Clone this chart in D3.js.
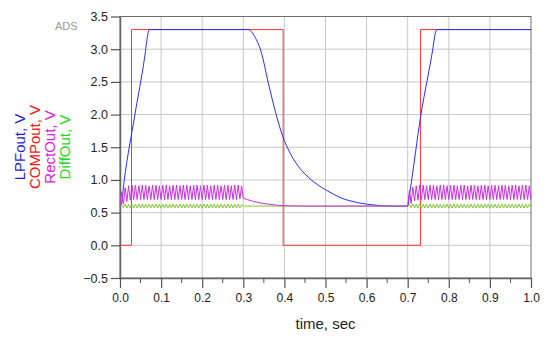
<!DOCTYPE html>
<html>
<head>
<meta charset="utf-8">
<script src="https://cdn.jsdelivr.net/npm/d3@7"></script>
<style>
  body { margin: 0; background: #fff; }
  svg { display: block; }
</style>
</head>
<body>
<div id="chart"></div>
<script>
// LPFout (V)
const lpfTime = [0, 0.003, 0.01, 0.036, 0.06, 0.067, 0.071, 0.312, 0.328, 0.343, 0.361, 0.38, 0.39, 0.4,
  0.41, 0.42, 0.44, 0.46, 0.48, 0.5, 0.52, 0.54, 0.56, 0.58, 0.6, 0.63, 0.66, 0.70,
  0.705, 0.732, 0.761, 0.767, 0.771, 1.0];
const lpfValue = [0.6, 0.62, 0.98, 1.99, 2.88, 3.2, 3.3, 3.3, 3.19, 2.97, 2.48, 2.0, 1.78, 1.6,
  1.46, 1.34, 1.16, 1.03, 0.93, 0.85, 0.78, 0.72, 0.68, 0.65, 0.63, 0.61, 0.6, 0.6,
  0.8, 1.99, 3.0, 3.24, 3.3, 3.3];

// COMPout (V)
const compTime = [0, 0.028, 0.028, 0.397, 0.397, 0.731, 0.731, 1.0];
const compValue = [0, 0, 3.3, 3.3, 0, 0, 3.3, 3.3];

// RectOut / DiffOut ripple, one sample every half ripple period (1/240 s)
const rippleStep = 1 / 240;
const rectBurst1 = [0.60, 0.82, 0.63, 0.88, 0.67, 0.91, 0.69, 0.92,
  0.70, 0.92, 0.70, 0.91, 0.70, 0.92, 0.70, 0.92, 0.70, 0.91, 0.70, 0.92,
  0.70, 0.92, 0.70, 0.91, 0.70, 0.92, 0.70, 0.92, 0.70, 0.91, 0.70, 0.92,
  0.70, 0.92, 0.70, 0.91, 0.70, 0.92, 0.70, 0.92, 0.70, 0.91, 0.70, 0.92,
  0.70, 0.92, 0.70, 0.91, 0.70, 0.92, 0.70, 0.92, 0.70, 0.91, 0.70, 0.92,
  0.70, 0.92, 0.70, 0.91, 0.70, 0.92, 0.70, 0.92, 0.70, 0.91, 0.70, 0.92,
  0.70, 0.92, 0.71, 0.91, 0.72];
const rectBurst2 = [0.60, 0.84, 0.64, 0.89, 0.68, 0.91, 0.69, 0.92,
  0.70, 0.92, 0.70, 0.91, 0.70, 0.92, 0.70, 0.92, 0.70, 0.91, 0.70, 0.92,
  0.70, 0.92, 0.70, 0.91, 0.70, 0.92, 0.70, 0.92, 0.70, 0.91, 0.70, 0.92,
  0.70, 0.92, 0.70, 0.91, 0.70, 0.92, 0.70, 0.92, 0.70, 0.91, 0.70, 0.92,
  0.70, 0.92, 0.70, 0.91, 0.70, 0.92, 0.70, 0.92, 0.70, 0.91, 0.70, 0.92,
  0.70, 0.92, 0.70, 0.91, 0.70, 0.92, 0.70, 0.92, 0.70, 0.91, 0.70, 0.92,
  0.70, 0.92, 0.70, 0.91, 0.70];
const rectTailTime = [0.31, 0.32, 0.34, 0.36, 0.38, 0.40, 0.45, 0.70];
const rectTailValue = [0.70, 0.68, 0.65, 0.63, 0.615, 0.605, 0.60, 0.60];

const diffBurst1 = [0.60, 0.62, 0.575, 0.63, 0.57, 0.63, 0.57, 0.63,
  0.57, 0.63, 0.57, 0.63, 0.57, 0.63, 0.57, 0.63, 0.57, 0.63, 0.57, 0.63,
  0.57, 0.63, 0.57, 0.63, 0.57, 0.63, 0.57, 0.63, 0.57, 0.63, 0.57, 0.63,
  0.57, 0.63, 0.57, 0.63, 0.57, 0.63, 0.57, 0.63, 0.57, 0.63, 0.57, 0.63,
  0.57, 0.63, 0.57, 0.63, 0.57, 0.63, 0.57, 0.63, 0.57, 0.63, 0.57, 0.63,
  0.57, 0.63, 0.57, 0.63, 0.57, 0.63, 0.57, 0.63, 0.57, 0.63, 0.57, 0.63,
  0.57, 0.63, 0.57, 0.62, 0.60];
const diffBurst2 = [0.60, 0.62, 0.575, 0.63, 0.57, 0.63, 0.57, 0.63,
  0.57, 0.63, 0.57, 0.63, 0.57, 0.63, 0.57, 0.63, 0.57, 0.63, 0.57, 0.63,
  0.57, 0.63, 0.57, 0.63, 0.57, 0.63, 0.57, 0.63, 0.57, 0.63, 0.57, 0.63,
  0.57, 0.63, 0.57, 0.63, 0.57, 0.63, 0.57, 0.63, 0.57, 0.63, 0.57, 0.63,
  0.57, 0.63, 0.57, 0.63, 0.57, 0.63, 0.57, 0.63, 0.57, 0.63, 0.57, 0.63,
  0.57, 0.63, 0.57, 0.63, 0.57, 0.63, 0.57, 0.63, 0.57, 0.63, 0.57, 0.63,
  0.57, 0.63, 0.57, 0.63, 0.60];

const xTicks = [0, 0.1, 0.2, 0.3, 0.4, 0.5, 0.6, 0.7, 0.8, 0.9, 1.0];
const xMinorTicks = [0.05, 0.15, 0.25, 0.35, 0.45, 0.55, 0.65, 0.75, 0.85, 0.95];
const yTicks = [-0.5, 0, 0.5, 1.0, 1.5, 2.0, 2.5, 3.0, 3.5];

const legendNames = ['LPFout, V', 'COMPout, V', 'RectOut, V', 'DiffOut, V'];
const legendColors = ['#1c1ce0', '#ee1515', '#e020e0', '#22d622'];

const W = 550, H = 343;
const font = '"Liberation Sans", Arial, sans-serif';

const x = d3.scaleLinear().domain([0, 1]).range([120, 531]);
const y = d3.scaleLinear().domain([-0.5, 3.5]).range([278, 16.5]);

const svg = d3.select('#chart').append('svg')
  .attr('width', W)
  .attr('height', H);

// grid
svg.append('g')
  .selectAll('line')
  .data(xTicks.slice(1, -1))
  .enter().append('line')
    .attr('x1', (d) => x(d)).attr('x2', (d) => x(d))
    .attr('y1', y(3.5)).attr('y2', y(-0.5))
    .attr('stroke', '#c8c8c8');
svg.append('g')
  .selectAll('line')
  .data(yTicks.slice(1, -1))
  .enter().append('line')
    .attr('x1', x(0)).attr('x2', x(1))
    .attr('y1', (d) => y(d)).attr('y2', (d) => y(d))
    .attr('stroke', '#c8c8c8');

// frame
svg.append('rect')
  .attr('x', x(0)).attr('y', y(3.5))
  .attr('width', x(1) - x(0)).attr('height', y(-0.5) - y(3.5))
  .attr('fill', 'none')
  .attr('stroke', '#6e6e6e');

// axes
const yAxis = svg.append('g')
  .attr('transform', `translate(${x(0)},0)`)
  .call(d3.axisLeft(y).tickValues(yTicks).tickFormat(d3.format('.1f')).tickSize(9).tickPadding(3).tickSizeOuter(0));
const xAxis = svg.append('g')
  .attr('transform', `translate(0,${y(-0.5)})`)
  .call(d3.axisBottom(x).tickValues(xTicks).tickFormat(d3.format('.1f')).tickSize(10).tickPadding(5).tickSizeOuter(0));
xAxis.append('g')
  .selectAll('line')
  .data(xMinorTicks)
  .enter().append('line')
    .attr('x1', (d) => x(d)).attr('x2', (d) => x(d))
    .attr('y1', 0).attr('y2', 5)
    .attr('stroke', '#555');

[yAxis, xAxis].forEach((ax) => {
  ax.select('.domain').attr('stroke', '#666').attr('stroke-width', 1.5);
  ax.selectAll('.tick line').attr('stroke', '#555').attr('stroke-width', 1.2);
  ax.selectAll('text').attr('fill', '#222').style('font-family', font);
});
yAxis.selectAll('text').style('font-size', '12.5px');
xAxis.selectAll('text').style('font-size', '12px');

// traces
const line = d3.line()
  .x((d) => x(d[0]))
  .y((d) => y(d[1]));
const smooth = d3.line()
  .x((d) => x(d[0]))
  .y((d) => y(d[1]))
  .curve(d3.curveMonotoneX);

const lpf = lpfTime.map((t, i) => [t, lpfValue[i]]);
const comp = compTime.map((t, i) => [t, compValue[i]]);
const rect = rectBurst1.map((v, i) => [i * rippleStep, v])
  .concat(rectTailTime.map((t, i) => [t, rectTailValue[i]]))
  .concat(rectBurst2.map((v, i) => [0.7 + i * rippleStep, v]));
const diff = diffBurst1.map((v, i) => [i * rippleStep, v])
  .concat(diffBurst2.map((v, i) => [0.7 + i * rippleStep, v]));

const plot = svg.append('g');
plot.append('path').attr('d', line(comp)).attr('fill', 'none').attr('stroke', '#ff3535').attr('stroke-width', 1);
plot.append('path').attr('d', smooth(lpf)).attr('fill', 'none').attr('stroke', '#2b2bff').attr('stroke-width', 1);
plot.append('path').attr('d', line(diff)).attr('fill', 'none').attr('stroke', '#82c832').attr('stroke-width', 1);
plot.append('path').attr('d', line(rect)).attr('fill', 'none').attr('stroke', '#cc2ee6').attr('stroke-width', 1);

// legend (rotated trace names)
svg.append('g')
  .selectAll('text')
  .data(legendNames)
  .enter().append('text')
    .attr('transform', (d, i) => `translate(${25 + i * 15},147) rotate(-90)`)
    .attr('text-anchor', 'middle')
    .attr('fill', (d, i) => legendColors[i])
    .style('font-family', font)
    .style('font-size', '15px')
    .text((d) => d);

svg.append('text')
  .attr('x', 55).attr('y', 30)
  .attr('fill', '#9a9a9a')
  .style('font-family', font)
  .style('font-size', '11px')
  .text('ADS');

svg.append('text')
  .attr('x', (x(0) + x(1)) / 2).attr('y', 329)
  .attr('text-anchor', 'middle')
  .attr('fill', '#222')
  .style('font-family', font)
  .style('font-size', '15px')
  .text('time, sec');
</script>
</body>
</html>
